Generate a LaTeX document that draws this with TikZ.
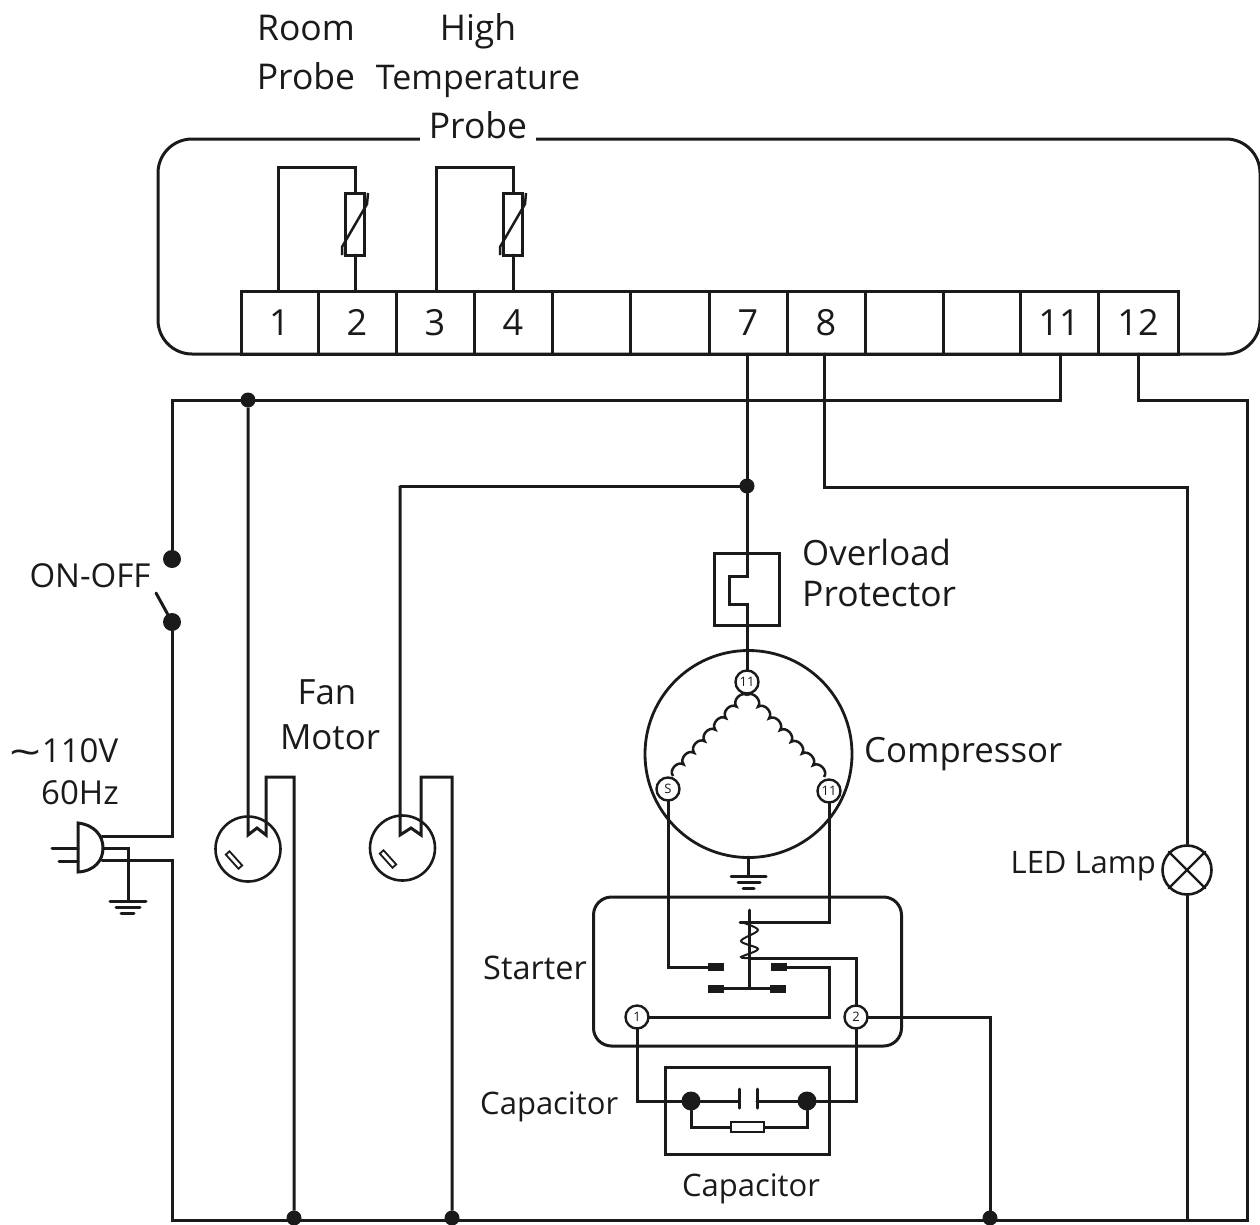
\documentclass[tikz,border=0pt]{standalone}
\usepackage{fontspec}
\setmainfont{Open Sans}
\usetikzlibrary{calc}
\definecolor{ink}{HTML}{1A1A1A}
\tikzset{
  wire/.style={draw=ink,line width=3pt,line cap=round,line join=miter},
  thin wire/.style={draw=ink,line width=2.5pt},
  term/.style={draw=ink,line width=3pt,minimum height=63pt,inner sep=0pt,outer sep=0pt,font=\fontsize{36}{36}\selectfont,text=ink},
  lab/.style={anchor=base,inner sep=0pt,text=ink,font=\fontsize{34.8}{34.8}\selectfont},
  labtop/.style={anchor=base,inner sep=0pt,text=ink,font=\fontsize{35.5}{35.5}\selectfont},
  labm/.style={anchor=base,inner sep=0pt,text=ink,font=\fontsize{33}{33}\selectfont},
  labs/.style={anchor=base,inner sep=0pt,text=ink,font=\fontsize{31}{31}\selectfont},
  dot/.style={circle,fill=ink,draw=none,inner sep=0pt,minimum size=#1,outer sep=0pt},
  dot/.default=15pt,
  port/.style={circle,draw=ink,line width=2.4pt,fill=white,inner sep=0pt,minimum size=23pt,outer sep=0pt,text=ink,font=\fontsize{13}{13}\selectfont},
  contact/.style={fill=ink,draw=none,minimum width=16pt,minimum height=8pt,inner sep=0pt,outer sep=0pt},
  box/.style={draw=ink,line width=3pt,inner sep=0pt,outer sep=0pt},
}
\begin{document}
\begin{tikzpicture}[x=1pt,y=-1pt]
\useasboundingbox (0,0) rectangle (1260,1224);
% controller frame
\node[box,rounded corners=34pt,minimum width=1102pt,minimum height=215pt] (frame) at (709,246.5) {};
% labels at the top
\node[labtop] (room) at (306,40) {Room};
\node[labtop] (roomp) at (306,89) {Probe};
\node[labtop] (high) at (478,40) {High};
\node[lab,font=\fontsize{34}{34}\selectfont] (temp) at (478,89) {Temperature};
\node[labtop,fill=white,inner xsep=9pt,text depth=6pt] (highp) at (478,138) {Probe};
% terminals
\node[term,minimum width=77pt] (t1) at (279.5,322.5) {1};
\node[term,minimum width=78pt] (t2) at (357,322.5) {2};
\node[term,minimum width=78pt] (t3) at (435,322.5) {3};
\node[term,minimum width=78pt] (t4) at (513,322.5) {4};
\node[term,minimum width=78pt] (t5) at (591,322.5) {};
\node[term,minimum width=79pt] (t6) at (669.5,322.5) {};
\node[term,minimum width=78pt] (t7) at (748,322.5) {7};
\node[term,minimum width=78pt] (t8) at (826,322.5) {8};
\node[term,minimum width=78pt] (t9) at (904,322.5) {};
\node[term,minimum width=77pt] (t10) at (981.5,322.5) {};
\node[term,minimum width=78pt] (t11) at (1059,322.5) {11};
\node[term,minimum width=80pt] (t12) at (1138,322.5) {12};
% thermistors
\node[box,minimum width=19pt,minimum height=62pt] (th1) at (355,224) {};
\node[box,minimum width=19pt,minimum height=62pt] (th2) at (513,224) {};
\draw[wire] (278,291) |- (355,167) -- (th1.north);
\draw[wire] (th1.south) -- (355,291);
\draw[wire] (436,291) |- (513,167) -- (th2.north);
\draw[wire] (th2.south) -- (513,291);
\draw[thin wire] (368,193) -- (367,204) -- (342,247) -- (342,255);
\draw[thin wire] (526,193) -- (525,204) -- (500,247) -- (500,255);
% mains and fan rails
\node[dot] (j1) at (248,400) {};
\coordinate (top11) at (1060,354);
\coordinate (top12) at (1138,354);
\node[dot=18pt] (swa) at (172,559) {};
\node[dot=18pt] (swb) at (172,622) {};
\coordinate (swarm) at (156,593);
\draw[wire] (top11) -- (1060,400) -- (j1) -- (172,400) -- (swa);
\draw[wire] (swb) -- (swarm);
\node[dot] (b1) at (294,1218) {};
\node[dot] (b2) at (452,1218) {};
\node[dot] (b3) at (990,1218) {};
\draw[wire] (top12) -- (1138,400) -- (1247,400) -- (1247,1220) -- (172,1220) -- (172,860) -- (102,860);
\draw[wire] (swb) -- (172,836) -- (102,836);
% plug
\draw[wire] (78,823) .. controls (95,825) and (103,836) .. (103,848) .. controls (103,860) and (95,871) .. (78,872) -- cycle;
\draw[wire] (52,848) -- (78,848);
\draw[wire] (59,861) -- (78,861);
\draw[wire] (103,848) -- (128,848) -- (128,901);
\draw[wire] (110,901) -- (146,901);
\draw[wire] (116,907) -- (140,907);
\draw[wire] (121,913) -- (134,913);
% fans
\node[circle,draw=ink,line width=2.6pt,minimum size=65pt,inner sep=0pt] (fan1) at (248,849) {};
\node[circle,draw=ink,line width=2.6pt,minimum size=65pt,inner sep=0pt] (fan2) at (402.5,848) {};
\draw[wire,line cap=butt] (j1) -- (248,835) -- (257,828) -- (266,835) -- (266,777) -- (294,777) -- (b1);
\draw[wire,line cap=butt] (400,486) -- (400,835) -- (411,828) -- (421,835) -- (421,777) -- (452,777) -- (b2);
\node[draw=ink,line width=1.8pt,minimum width=19pt,minimum height=5pt,inner sep=0pt,rotate=-48] (slot1) at (234,860) {};
\node[draw=ink,line width=1.8pt,minimum width=19pt,minimum height=5pt,inner sep=0pt,rotate=-48] (slot2) at (388,859) {};
% compressor feed
\node[box,minimum width=65pt,minimum height=72pt] (ovl) at (747,589) {};
\node[dot] (j2) at (747,486) {};
\coordinate (top7) at (747,354);
\node[circle,draw=ink,line width=2.8pt,minimum size=207pt,inner sep=0pt] (comp) at (748.5,754) {};
\node[port] (pc) at (747,682) {11};
\node[port] (ps) at (668,789) {S};
\node[port] (pr) at (829,791) {11};
\draw[wire] (top7) -- (j2) -- (ovl.north);
\draw[wire] (j2) -- (400,486);
\draw[wire] (747,553) -- (747,576) -- (729,576) -- (729,604) -- (747,604) -- (747,625) -- (pc);
\coordinate (top8) at (824,354);
\node[circle,draw=ink,line width=2.6pt,minimum size=49pt,inner sep=0pt] (lamp) at (1187,870) {};
\draw[wire] (top8) -- (824,487) -- (1187,487) -- (lamp);
\draw[wire] (lamp) -- (1187,1220);
\draw[wire,line width=2.4pt] (lamp.north west) -- (lamp.south east);
\draw[wire,line width=2.4pt] (lamp.north east) -- (lamp.south west);
% windings
\coordinate (wt) at (747,695);
\coordinate (wl) at (673,776);
\coordinate (wr) at (824,777);
\draw[thin wire] (wt) \foreach \i in {1,...,7} { to[bend right=80,looseness=1.2] ($(wt)!\i/7!(wl)$) };
\draw[thin wire] (wt) \foreach \i in {1,...,7} { to[bend left=80,looseness=1.2] ($(wt)!\i/7!(wr)$) };
% compressor ground
\coordinate (cg) at (748,857);
\draw[wire] (cg) -- (748,876);
\draw[wire] (731,876) -- (766,876);
\draw[wire] (738,882) -- (760,882);
\draw[wire] (743,888) -- (754,888);
% starter
\node[box,rounded corners=18pt,minimum width=308pt,minimum height=149pt] (starter) at (747.5,971.5) {};
\node[port] (p1) at (637,1017) {1};
\node[port] (p2) at (856,1017) {2};
\node[contact] (c1) at (715.5,967) {};
\node[contact] (c2) at (778.5,967) {};
\node[contact] (c3) at (716,988.5) {};
\node[contact] (c4) at (778,988.5) {};
\draw[wire] (ps) -- (668,967) -- (c1);
\draw[wire] (pr) -- (829,922) -- (740,922);
\draw[wire] (c2) -- (829,967) -- (829,1017) -- (p1);
\draw[wire] (749,910) -- (749,988);
\draw[wire] (c3) -- (c4);
\draw[wire] (749,958) -- (856,958) -- (p2);
\draw[thin wire,line width=2pt] plot[smooth,tension=.55] coordinates {(741,922) (758,930) (741,941) (758,949) (741,957) (749,958)};
% capacitor
\node[box,minimum width=164pt,minimum height=87pt] (capbox) at (747,1110.5) {};
\node[dot=19pt] (d1) at (691,1101) {};
\node[dot=19pt] (d2) at (807,1101) {};
\node[draw=ink,line width=2.4pt,minimum width=33pt,minimum height=10pt,inner sep=0pt] (res) at (747.5,1127) {};
\coordinate (cpa) at (739,1101);
\coordinate (cpb) at (757,1101);
\draw[wire] (p1) -- (637,1101) -- (d1) -- (cpa);
\draw[wire] (p2) -- (856,1101) -- (d2) -- (cpb);
\draw[wire] (739,1089) -- (739,1108);
\draw[wire] (757,1089) -- (757,1108);
\draw[wire] (d1) -- (691,1127) -- (res);
\draw[wire] (d2) -- (807,1127) -- (res);
\draw[wire] (p2) -- (990,1017) -- (b3);
% labels
\node[labm] (onoff) at (90,587) {ON-OFF};
\node[labm,anchor=base west] (tilde) at (9,766) {\scalebox{1.7}[1.2]{\textasciitilde}};
\node[labm] (volt) at (80,762) {110V};
\node[labm] (hz) at (80,804) {60Hz};
\node[lab] (fan) at (327,704) {Fan};
\node[lab] (motor) at (330,749) {Motor};
\node[lab,anchor=base west] (over) at (802,565) {Overload};
\node[lab,anchor=base west,font=\fontsize{35.4}{35.4}\selectfont] (prot) at (802,606) {Protector};
\node[lab,anchor=base west] (compl) at (864,762) {Compressor};
\node[labs,anchor=base east] (led) at (1156,873) {LED Lamp};
\node[labm,anchor=base west,font=\fontsize{32.5}{32.5}\selectfont] (startl) at (483,979) {Starter};
\node[labs,anchor=base west] (cap1) at (480,1114) {Capacitor};
\node[labs] (cap2) at (751,1196) {Capacitor};
\end{tikzpicture}
\end{document}
